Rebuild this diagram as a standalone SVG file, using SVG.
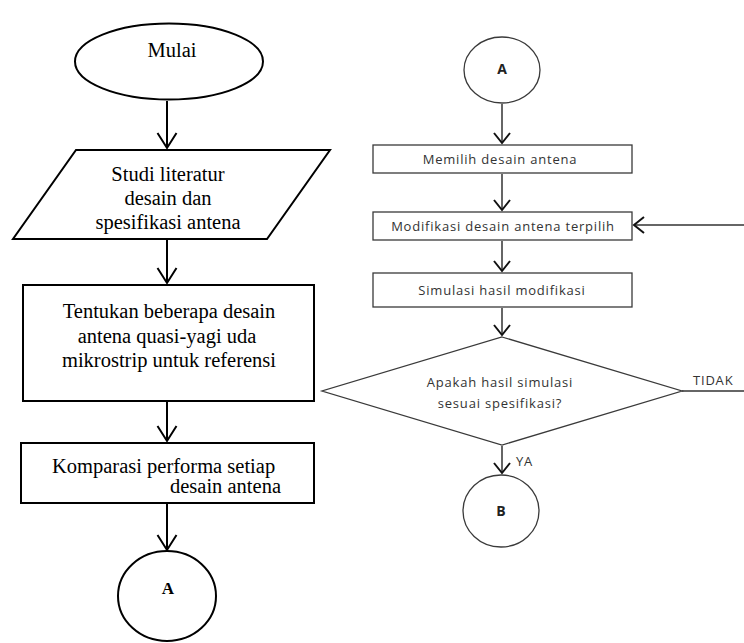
<svg xmlns="http://www.w3.org/2000/svg" width="744" height="643" viewBox="0 0 744 643">
<defs>
<style>
.ls{fill:#fff;stroke:#000;stroke-width:2}
.rs{fill:#fff;stroke:#3a3a3a;stroke-width:1.3}
.lt{font-family:"Liberation Serif","Times New Roman",serif;font-size:20.5px;fill:#000}
.rt{font-family:"Open Sans","Noto Sans",sans-serif;font-size:13px;letter-spacing:0.8px;fill:#333}
.lc{fill:none;stroke:#000;stroke-width:2}
.rc{fill:none;stroke:#333;stroke-width:1.5}
.rh{fill:none;stroke:#111;stroke-width:2}
</style>
<marker id="al" markerUnits="userSpaceOnUse" markerWidth="24" markerHeight="20" refX="20" refY="10" orient="auto" overflow="visible">
<path d="M5,0.5 L20,10 L5,19.5" fill="none" stroke="#000" stroke-width="2"/>
</marker>
</defs>
<rect width="744" height="643" fill="#fff"/>

<g id="mulai">
<ellipse class="ls" cx="169" cy="61.5" rx="94" ry="38"/>
<text class="lt" x="172" y="57" text-anchor="middle">Mulai</text>
</g>

<g id="studi">
<polygon class="ls" points="76,150 330,150 267,239 13,239"/>
<text class="lt" x="168" y="181" text-anchor="middle">Studi literatur</text>
<text class="lt" x="168" y="205" text-anchor="middle">desain dan</text>
<text class="lt" x="168" y="229" text-anchor="middle">spesifikasi antena</text>
</g>

<g id="tentukan">
<rect class="ls" x="23" y="285" width="291" height="116"/>
<text class="lt" x="169" y="318" text-anchor="middle">Tentukan beberapa desain</text>
<text class="lt" x="167" y="343" text-anchor="middle">antena quasi-yagi uda</text>
<text class="lt" x="169" y="367" text-anchor="middle">mikrostrip untuk referensi</text>
</g>

<g id="komparasi">
<rect class="ls" x="21" y="443" width="293" height="60"/>
<text class="lt" x="52" y="473">Komparasi performa setiap</text>
<text class="lt" x="170" y="493">desain antena</text>
</g>

<g id="connA-left">
<ellipse class="ls" cx="167" cy="596" rx="49" ry="45"/>
<text x="168" y="594" text-anchor="middle" font-family="'Liberation Serif','Times New Roman',serif" font-weight="bold" font-size="17" fill="#000">A</text>
</g>

<g id="connA-right">
<ellipse class="rs" cx="502" cy="70" rx="38" ry="33"/>
<text x="502" y="74" text-anchor="middle" font-family="'Open Sans','Noto Sans',sans-serif" font-weight="bold" font-size="14" fill="#222">A</text>
</g>

<g id="memilih">
<rect class="rs" x="373" y="145" width="259" height="28"/>
<text class="rt" x="500" y="164" text-anchor="middle">Memilih desain antena</text>
</g>

<g id="modifikasi">
<rect class="rs" x="373" y="212" width="259" height="28"/>
<text class="rt" x="503" y="231" text-anchor="middle">Modifikasi desain antena terpilih</text>
</g>

<g id="simulasi">
<rect class="rs" x="373" y="273" width="259" height="34"/>
<text class="rt" x="502" y="295" text-anchor="middle">Simulasi hasil modifikasi</text>
</g>

<g id="keputusan">
<polygon class="rs" points="502,337 682,391 502,445 322,391"/>
<text class="rt" x="500" y="387" text-anchor="middle">Apakah hasil simulasi</text>
<text class="rt" x="500" y="408" text-anchor="middle">sesuai spesifikasi?</text>
</g>

<g id="connB">
<ellipse class="rs" cx="501" cy="511" rx="38" ry="36"/>
<text x="501" y="516" text-anchor="middle" font-family="'Open Sans','Noto Sans',sans-serif" font-weight="bold" font-size="14" fill="#222">B</text>
</g>

<g id="connectors">
<line class="lc" x1="167" y1="101" x2="167" y2="148" marker-end="url(#al)"/>
<line class="lc" x1="167" y1="240" x2="167" y2="283" marker-end="url(#al)"/>
<line class="lc" x1="167" y1="402" x2="167" y2="441" marker-end="url(#al)"/>
<line class="lc" x1="167" y1="504" x2="167" y2="550" marker-end="url(#al)"/>

<path class="rc" d="M502,104 V143"/>
<path class="rh" d="M494,133 L502,143 L510,133"/>
<path class="rc" d="M502,174 V210"/>
<path class="rh" d="M494,200 L502,210 L510,200"/>
<path class="rc" d="M502,241 V271"/>
<path class="rh" d="M494,261 L502,271 L510,261"/>
<path class="rc" d="M502,308 V335"/>
<path class="rh" d="M494,325 L502,335 L510,325"/>
<path class="rc" d="M502,446 V473"/>
<path class="rh" d="M494,463 L502,473 L510,463"/>
<path class="rc" d="M744,225 H634"/>
<path class="rh" d="M644,217 L634,225 L644,233"/>
<path class="rc" d="M682,391 H744"/>
<text class="rt" x="693" y="385" letter-spacing="0">TIDAK</text>
<text class="rt" x="516" y="466" letter-spacing="0">YA</text>
</g>
</svg>
